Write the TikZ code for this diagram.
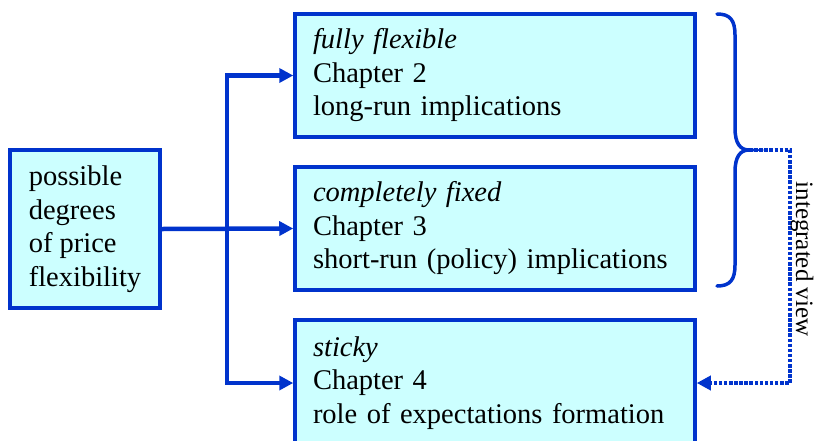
\documentclass[tikz,border=0pt]{standalone}
\usepackage{fontspec}
\setmainfont{Liberation Serif}
\usetikzlibrary{arrows.meta}
\definecolor{boxfill}{HTML}{CCFFFF}
\definecolor{boxline}{HTML}{0033CC}
\begin{document}
\begin{tikzpicture}[x=1pt,y=-1pt,
  box/.style={draw=boxline, fill=boxfill, line width=3.5pt, rectangle,
    font=\fontsize{28.5}{33.5}\selectfont, inner sep=0pt},
  chbox/.style={box, minimum width=400pt, minimum height=123pt, text width=364pt, align=left},
  arr/.style={draw=boxline, line width=4.5pt, -{Triangle[length=14pt,width=14pt]}},
  dotarr/.style={draw=boxline, line width=4pt, dash pattern=on 3.5pt off 1.6pt, -{Triangle[length=14pt,width=14pt]}},
  brace/.style={draw=boxline, line width=3.5pt, line cap=round}
]
\useasboundingbox (0,0) rectangle (817,440);
\node[box, minimum width=150pt, minimum height=158pt, align=left] (b0) at (85,229)
  {possible\\degrees\\of price\\flexibility};
\node[chbox] (b1) at (495,75.5) {\textit{fully flexible}\\Chapter 2\\long-run implications};
\node[chbox] (b2) at (495,228.5) {\textit{completely fixed}\\Chapter 3\\short-run (policy) implications};
\node[chbox, minimum height=126pt] (b3) at (495,383) {\textit{sticky}\\Chapter 4\\role of expectations formation};
\coordinate (j) at (227,229);
\draw[arr] (b0.east) -- (b2.west);
\draw[arr, line cap=rect] (j) |- (b1.west);
\draw[arr, line cap=rect] (j) |- (b3.west);
% brace
\draw[brace] (717,14) .. controls (730,14) and (735,20) .. (735,35) -- (735,128)
  .. controls (735,143) and (740,150) .. (749,150)
  .. controls (740,150) and (735,157) .. (735,172) -- (735,265)
  .. controls (735,280) and (730,286) .. (717,286);
\coordinate (tip) at (749,150);
\coordinate (corner) at (790,150);
\draw[dotarr] (tip) -- (corner) |- (b3.east);
\node[rotate=-90, font=\fontsize{25}{30}\selectfont, inner sep=0pt] (iv) at (802,259) {integrated view};
\end{tikzpicture}
\end{document}
